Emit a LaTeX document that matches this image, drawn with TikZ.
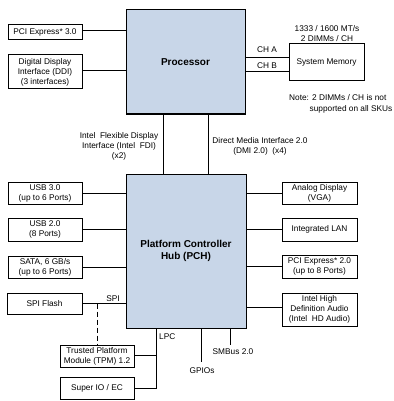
\documentclass[tikz,border=0pt]{standalone}
\usepackage{fontspec}
\setmainfont{Liberation Sans}
\definecolor{chipblue}{RGB}{200,214,232}
\begin{document}
\begin{tikzpicture}[x=1pt,y=-1pt,
  txt/.style={font=\fontsize{8.3}{10}\selectfont, align=center, inner sep=0pt},
  box/.style={txt, draw=black, line width=1pt},
  chip/.style={draw=black, line width=1pt, fill=chipblue, inner sep=0pt,
    font=\fontsize{10}{11.8}\selectfont\bfseries, align=center},
  wire/.style={line width=0.9pt}]
\useasboundingbox (0,0) rectangle (393,401);
% chips
\node[chip, minimum width=119pt, minimum height=104pt] (proc) at (185.5,62) {Processor};
\node[chip, minimum width=120pt, minimum height=154pt] (pch) at (186,251) {Platform Controller\\Hub (PCH)};
% processor side boxes
\node[box, minimum width=74pt, minimum height=15pt] (pcie3) at (45,32.5) {PCI Express* 3.0};
\node[box, minimum width=74pt, minimum height=34pt] (ddi) at (45,72) {Digital Display\\Interface (DDI)\\(3 interfaces)};
\node[box, minimum width=75pt, minimum height=37pt] (mem) at (326.5,62.5) {System Memory};
% PCH left boxes
\node[box, minimum width=74pt, minimum height=22pt] (usb3) at (45,193) {USB 3.0\\(up to 6 Ports)};
\node[box, minimum width=74pt, minimum height=23pt] (usb2) at (45,229.5) {USB 2.0\\(8 Ports)};
\node[box, minimum width=74pt, minimum height=22pt] (sata) at (45,267) {SATA, 6 GB/s\\(up to 6 Ports)};
\node[box, minimum width=75pt, minimum height=21pt] (spi) at (44.5,303.5) {SPI Flash};
\node[box, minimum width=74pt, minimum height=22pt] (tpm) at (97,356) {Trusted Platform\\Module (TPM) 1.2};
\node[box, minimum width=74pt, minimum height=22pt] (sio) at (97,388) {Super IO / EC};
% PCH right boxes
\node[box, minimum width=75pt, minimum height=22pt] (vga) at (319.5,193) {Analog Display\\(VGA)};
\node[box, minimum width=75pt, minimum height=23pt] (lan) at (319.5,229.5) {Integrated LAN};
\node[box, minimum width=75pt, minimum height=23pt] (pcie2) at (319.5,266.5) {PCI Express* 2.0\\(up to 8 Ports)};
\node[box, minimum width=75pt, minimum height=33pt] (hda) at (319.5,309.5) {Intel High\\Definition Audio\\(Intel\ \ HD Audio)};
% processor connectors
\draw[wire] ([yshift=2.5pt]pcie3.east) -- ([yshift=2.5pt]pcie3.east -| proc.west);
\draw[wire] ([yshift=2pt]ddi.east) -- ([yshift=2pt]ddi.east -| proc.west);
\draw[wire] ([yshift=5.5pt]mem.west) -- ([yshift=5.5pt]mem.west -| proc.east);
\draw[wire] ([yshift=-8.5pt]mem.west) -- ([yshift=-8.5pt]mem.west -| proc.east);
\draw[wire] ([xshift=-22.5pt]proc.south) -- ([xshift=-22.5pt]proc.south |- pch.north);
\draw[wire] ([xshift=22.5pt]proc.south) -- ([xshift=22.5pt]proc.south |- pch.north);
% PCH connectors
\draw[wire] (usb3.east) -- (usb3.east -| pch.west);
\draw[wire] (usb2.east) -- (usb2.east -| pch.west);
\draw[wire] (sata.east) -- (sata.east -| pch.west);
\draw[wire] (spi.east) -- (spi.east -| pch.west);
\coordinate (spij) at (tpm.north |- spi.east);
\draw[wire, dashed, dash pattern=on 5pt off 3pt] (spij) -- (tpm.north);
\draw[wire] (vga.west) -- (vga.west -| pch.east);
\draw[wire] (lan.west) -- (lan.west -| pch.east);
\draw[wire] (pcie2.west) -- (pcie2.west -| pch.east);
\draw[wire] ([yshift=2.5pt]hda.west) -- ([yshift=2.5pt]hda.west -| pch.east);
\coordinate (lpctop) at ([xshift=-30pt]pch.south);
\draw[wire] (lpctop) -- (lpctop |- sio.east) -- (sio.east);
\draw[wire] ([yshift=1pt]tpm.east) -- ([yshift=1pt]tpm.east -| lpctop);
\coordinate (gpiotop) at ([xshift=15pt]pch.south);
\coordinate (gpioend) at ([yshift=-33pt]gpiotop);
\draw[wire] (gpiotop) -- (gpioend);
\coordinate (smbtop) at ([xshift=44pt]pch.south);
\coordinate (smbend) at ([yshift=-16pt]smbtop);
\draw[wire] (smbtop) -- (smbend);
% labels
\node[txt] (cha) at (267,50) {CH A};
\node[txt] (chb) at (267,65.5) {CH B};
\node[txt] (speed) at (327,33.5) {1333 / 1600 MT/s\\2 DIMMs / CH};
\node[txt, anchor=west] (note1) at (289,98) {Note: 2 DIMMs / CH is not};
\node[txt, anchor=west] (note2) at (309.5,109) {supported on all SKUs};
\node[txt] (fdi) at (119,146) {Intel\ \ Flexible Display\\Interface (Intel\ \ FDI)\\(x2)};
\node[txt] (dmi) at (260,146.5) {Direct Media Interface 2.0\\(DMI 2.0)\ \ (x4)};
\node[txt] (spil) at (113,298.5) {SPI};
\node[txt, anchor=west] (lpcl) at (159,337) {LPC};
\node[txt] (gpiol) at (202,371) {GPIOs};
\node[txt] (smbl) at (233,352) {SMBus 2.0};
\end{tikzpicture}
\end{document}
